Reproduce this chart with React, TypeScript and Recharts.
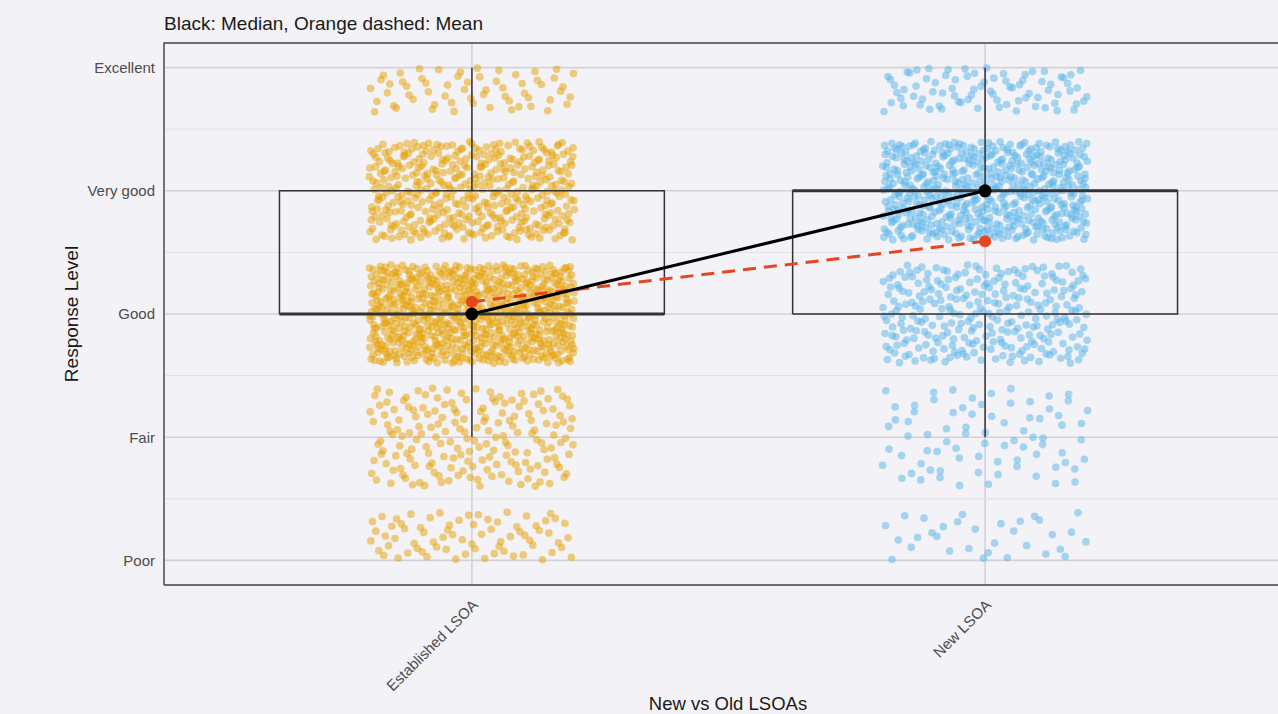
import React from "react";
import { ComposedChart, Scatter, XAxis, YAxis, CartesianGrid } from "recharts";

const groups = ["Established LSOA", "New LSOA"];
const levelLabels = ["Poor", "Fair", "Good", "Very good", "Excellent"];
const levelValues = [1, 2, 3, 4, 5];

// responses per level, Poor .. Excellent (estimated from point density)
const establishedCounts = [72, 180, 700, 420, 60];
const newCounts = [32, 78, 275, 530, 80];

// box plot summaries, per group
const medians = [3, 4];
const means = [3.1, 3.59];
const lowerQuartiles = [3, 3];
const upperQuartiles = [4, 4];
const whiskerLows = [2, 2];
const whiskerHighs = [5, 5];

const groupColors = ["#E69F00", "#56B4E9"];
const FONT = '"Liberation Sans", Arial, Helvetica, sans-serif';
const BG = "#F3F2F7";

// deterministic low-discrepancy spread, only used to place the jitter
function spread(i: number, base: number) {
  let f = 1;
  let r = 0;
  while (i > 0) {
    f /= base;
    r += f * (i % base);
    i = Math.floor(i / base);
  }
  return r;
}

function jitterGroup(g: number, counts: number[]) {
  const pts: { x: number; y: number }[] = [];
  let k = 1 + g * 3001;
  counts.forEach((n, li) => {
    const lvl = levelValues[li];
    for (let j = 0; j < n; j++, k++) {
      const u = spread(k, 2);
      const v = spread(k, 3);
      let y = lvl + (v - 0.5) * 0.8;
      if (lvl === 5) y = 5 - v * 0.36;
      if (lvl === 1) y = 1 + v * 0.4;
      pts.push({ x: g + 1 + (u - 0.5) * 0.4, y });
    }
  });
  return pts;
}

const groupPoints = [jitterGroup(0, establishedCounts), jitterGroup(1, newCounts)];

const noShape = () => <g />;

const dotShape = (color: string, r: number, opacity: number) => (p: any) =>
  <circle cx={p.cx} cy={p.cy} r={r} fill={color} fillOpacity={opacity} />;

function path(key: string, data: { x: number; y: number }[], stroke: string, width: number, dash?: string) {
  return (
    <Scatter
      key={key}
      data={data}
      line={{ stroke, strokeWidth: width, strokeDasharray: dash, fill: "none" }}
      shape={noShape}
      isAnimationActive={false}
    />
  );
}

const XTick = (props: any) => {
  const { x, y, payload } = props;
  const px = x + 7;
  const py = y + 21;
  return (
    <text
      x={px}
      y={py}
      transform={`rotate(-45 ${px} ${py})`}
      textAnchor="end"
      fill="#4D4D4D"
      fontSize={15}
      fontFamily={FONT}
    >
      {groups[Math.round(payload.value) - 1]}
    </text>
  );
};

export default function App() {
  const minor = [1.5, 2.5, 3.5, 4.5];
  return (
    <div
      style={{
        position: "absolute",
        left: 0,
        top: 0,
        width: 1278,
        height: 714,
        overflow: "hidden",
        background: BG,
      }}
    >
      <ComposedChart width={1300} height={714} margin={{ top: 43, right: 7, bottom: 0, left: 0 }}>
        <CartesianGrid stroke="#D3D1D8" strokeWidth={1.6} />
        <XAxis
          dataKey="x"
          type="number"
          domain={[0.4, 2.6]}
          ticks={[1, 2]}
          interval={0}
          height={129}
          axisLine={false}
          tickLine={false}
          tickSize={0}
          tickMargin={0}
          tick={<XTick />}
        />
        <YAxis
          dataKey="y"
          type="number"
          domain={[0.8, 5.2]}
          ticks={levelValues}
          interval={0}
          width={164}
          axisLine={false}
          tickLine={false}
          tickSize={4}
          tickMargin={5}
          tickFormatter={(v: number) => levelLabels[v - 1]}
          tick={{ fill: "#4D4D4D", fontSize: 15, fontFamily: FONT }}
        />
        {minor.map((m) =>
          path(`minor-${m}`, [{ x: 0.4, y: m }, { x: 2.6, y: m }], "#E4E2E9", 1)
        )}
        {groupPoints.map((pts, g) => (
          <Scatter
            key={`pts-${g}`}
            data={pts}
            shape={dotShape(groupColors[g], 3.8, 0.5)}
            isAnimationActive={false}
          />
        ))}
        {groups.map((_, g) => {
          const c = g + 1;
          const hw = 0.375;
          return [
            path(`box-${g}`, [
              { x: c - hw, y: lowerQuartiles[g] },
              { x: c + hw, y: lowerQuartiles[g] },
              { x: c + hw, y: upperQuartiles[g] },
              { x: c - hw, y: upperQuartiles[g] },
              { x: c - hw, y: lowerQuartiles[g] },
            ], "#333333", 1.5),
            path(`med-${g}`, [{ x: c - hw, y: medians[g] }, { x: c + hw, y: medians[g] }], "#333333", 3),
            path(`wlo-${g}`, [{ x: c, y: whiskerLows[g] }, { x: c, y: lowerQuartiles[g] }], "#333333", 1.5),
            path(`whi-${g}`, [{ x: c, y: upperQuartiles[g] }, { x: c, y: whiskerHighs[g] }], "#333333", 1.5),
          ];
        })}
        <Scatter
          data={means.map((m, i) => ({ x: i + 1, y: m }))}
          line={{ stroke: "#E5461F", strokeWidth: 3, strokeDasharray: "13 8" }}
          shape={dotShape("#E5461F", 6, 1)}
          isAnimationActive={false}
        />
        <Scatter
          data={medians.map((m, i) => ({ x: i + 1, y: m }))}
          line={{ stroke: "#000000", strokeWidth: 3 }}
          shape={dotShape("#000000", 6.5, 1)}
          isAnimationActive={false}
        />
        {path("border", [
          { x: 0.4, y: 0.8 },
          { x: 0.4, y: 5.2 },
          { x: 2.6, y: 5.2 },
          { x: 2.6, y: 0.8 },
          { x: 0.4, y: 0.8 },
        ], "#4A4A4A", 1.4)}
      </ComposedChart>
      <svg
        width={1278}
        height={714}
        style={{ position: "absolute", left: 0, top: 0, pointerEvents: "none" }}
        fontFamily={FONT}
      >
        <text x={164} y={30} fontSize={19} fill="#1A1A1A">
          Black: Median, Orange dashed: Mean
        </text>
        <text x={78} y={314} fontSize={19} fill="#1A1A1A" textAnchor="middle" transform="rotate(-90 78 314)">
          Response Level
        </text>
        <text x={728} y={710} fontSize={18.5} fill="#1A1A1A" textAnchor="middle">
          New vs Old LSOAs
        </text>
      </svg>
    </div>
  );
}
